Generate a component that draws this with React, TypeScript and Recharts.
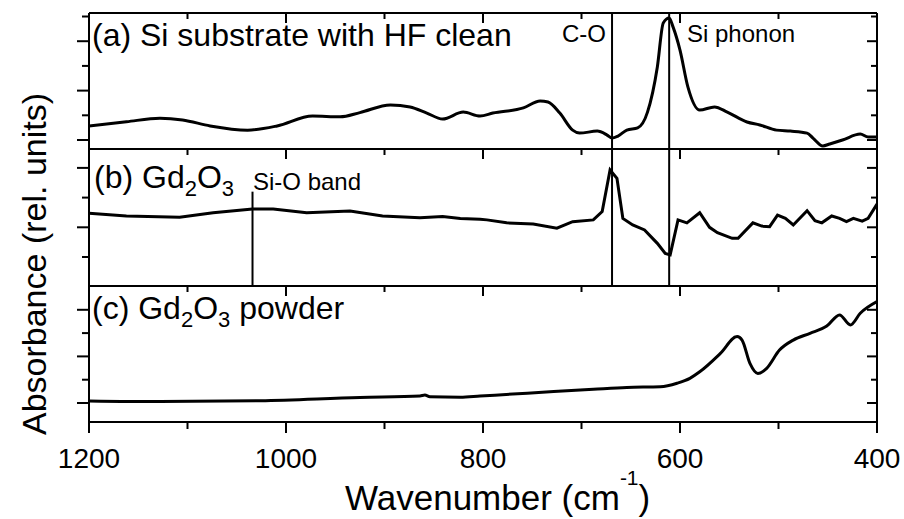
import React from "react";
import { LineChart, Line, XAxis, YAxis, ReferenceLine } from "recharts";

const FONT = '"Liberation Sans", Arial, Helvetica, sans-serif';

// (a) Si substrate with HF clean
const hfWave = [1200, 1162, 1128, 1105, 1077, 1039, 1009, 973, 945, 925, 894, 874, 857, 841, 820, 803, 790, 759, 742, 734, 722, 709, 702, 684, 674, 669, 663, 654, 643, 633, 623, 617, 611, 607, 600, 592, 580, 565, 552, 532, 519, 502, 488, 471, 465, 455, 448, 435, 417, 409, 400];
const hfAbs = [0.57, 0.74, 0.88, 0.81, 0.57, 0.4, 0.57, 0.97, 0.94, 1.11, 1.42, 1.34, 1.09, 0.85, 1.13, 0.97, 1.09, 1.3, 1.58, 1.54, 1.09, 0.4, 0.28, 0.36, 0.2, 0.08, 0.16, 0.4, 0.49, 1.13, 2.96, 4.74, 4.94, 4.57, 3.64, 2.15, 1.21, 1.34, 1.13, 0.73, 0.61, 0.4, 0.36, 0.28, 0.08, -0.24, -0.16, 0, 0.24, 0.12, 0.12];

// (b) Gd2O3 film
const filmWave = [1200, 1162, 1108, 1074, 1034, 1013, 979, 935, 902, 864, 841, 823, 803, 796, 776, 749, 725, 709, 688, 679, 671, 664, 658, 648, 636, 623, 615, 610, 602, 593, 580, 570, 562, 547, 541, 526, 517, 509, 501, 493, 485, 471, 463, 456, 446, 438, 431, 424, 415, 409, 400];
const filmAbs = [1.47, 1.38, 1.34, 1.49, 1.62, 1.62, 1.49, 1.55, 1.38, 1.32, 1.36, 1.3, 1.27, 1.25, 1.15, 1.11, 0.97, 1.19, 1.25, 1.53, 2.93, 2.65, 1.3, 1.08, 0.91, 0.46, 0.12, 0.07, 1.25, 1.15, 1.49, 1.0, 0.82, 0.63, 0.63, 1.15, 1.04, 1.02, 1.41, 1.3, 1.08, 1.56, 1.22, 1.15, 1.38, 1.3, 1.19, 1.3, 1.21, 1.3, 1.78];

// (c) Gd2O3 powder
const powderWave = [1200, 1128, 1026, 925, 864, 859, 854, 823, 803, 755, 688, 654, 620, 603, 590, 580, 559, 542, 537, 529, 521, 512, 499, 485, 468, 451, 438, 427, 417, 400];
const powderAbs = [0.09, 0.06, 0.1, 0.24, 0.3, 0.34, 0.27, 0.25, 0.3, 0.42, 0.59, 0.67, 0.7, 0.85, 1.06, 1.34, 2.13, 2.85, 2.7, 1.7, 1.27, 1.49, 2.27, 2.7, 2.99, 3.3, 3.78, 3.35, 3.85, 4.35];

const X_MAJOR = [1200, 1000, 800, 600, 400];
const X_MINOR = [1100, 900, 700, 500];

// band markers (cm-1)
const CO_BAND = 669;
const SI_PHONON = 611;
const SIO_BAND = 1034;
const SIO_MARK_TOP = 2.2;

const toRows = (w: number[], v: number[]) => w.map((x, i) => ({ w: x, v: v[i] }));

const W = 904;
const noLabel = () => <g />;

type PanelProps = {
  data: { w: number; v: number }[];
  top: number;
  height: number;
  marginTop: number;
  marginBottom: number;
  domain: [number, number];
  yMajor: number[];
  yMinor: number[];
  curve: "linear" | "monotone";
  bottom?: boolean;
  children?: React.ReactNode;
};

// axes are 1px wide/high: recharts skips drawing an axis of size 0
const Panel = ({ data, top, height, marginTop, marginBottom, domain, yMajor, yMinor, curve, bottom, children }: PanelProps) => (
  <div style={{ position: "absolute", left: 0, top }}>
    <LineChart width={W} height={height} data={data} margin={{ top: marginTop, right: 27, bottom: marginBottom, left: 87 }}>
      <XAxis xAxisId="x" dataKey="w" type="number" domain={[400, 1200]} reversed allowDataOverflow orientation="top" mirror height={1} ticks={X_MAJOR} interval={0} tickSize={10} tick={noLabel} stroke="#000" strokeWidth={2} />
      <XAxis xAxisId="xm" dataKey="w" type="number" domain={[400, 1200]} reversed allowDataOverflow orientation="top" mirror height={1} ticks={X_MINOR} interval={0} tickSize={5} tick={noLabel} axisLine={false} stroke="#000" strokeWidth={2} />
      {bottom && (
        <XAxis xAxisId="xb" dataKey="w" type="number" domain={[400, 1200]} reversed allowDataOverflow orientation="bottom" height={1} ticks={X_MAJOR} interval={0} tickSize={11} tickMargin={15} tick={{ fontSize: 28, fill: "#000", fontFamily: FONT, stroke: "none" }} stroke="#000" strokeWidth={2} />
      )}
      {bottom && (
        <XAxis xAxisId="xbm" dataKey="w" type="number" domain={[400, 1200]} reversed allowDataOverflow orientation="bottom" height={1} ticks={X_MINOR} interval={0} tickSize={6} tick={noLabel} axisLine={false} stroke="#000" strokeWidth={2} />
      )}
      <YAxis yAxisId="y" type="number" domain={domain} allowDataOverflow width={1} ticks={yMajor} interval={0} tickSize={12} tick={noLabel} stroke="#000" strokeWidth={2} />
      <YAxis yAxisId="ym" type="number" domain={domain} allowDataOverflow width={1} ticks={yMinor} interval={0} tickSize={6} tick={noLabel} axisLine={false} stroke="#000" strokeWidth={2} />
      <YAxis yAxisId="yr" type="number" domain={domain} allowDataOverflow orientation="right" mirror width={1} ticks={yMajor} interval={0} tickSize={10} tick={noLabel} stroke="#000" strokeWidth={2} />
      <YAxis yAxisId="yrm" type="number" domain={domain} allowDataOverflow orientation="right" mirror width={1} ticks={yMinor} interval={0} tickSize={5} tick={noLabel} axisLine={false} stroke="#000" strokeWidth={2} />
      {children}
      <Line xAxisId="x" yAxisId="y" dataKey="v" type={curve} stroke="#000" strokeWidth={3} dot={false} isAnimationActive={false} />
    </LineChart>
  </div>
);

const bandLine = (x: number) => (
  <ReferenceLine xAxisId="x" yAxisId="y" x={x} stroke="#000" strokeWidth={2} ifOverflow="hidden" />
);

const small = { fontSize: 24, fill: "#000", fontFamily: FONT };
const big = { fontSize: 32, fill: "#000", fontFamily: FONT };

export default function App() {
  return (
    <div style={{ position: "absolute", left: 0, top: 0, width: W, height: 519, background: "#fff" }}>
      <Panel data={toRows(hfWave, hfAbs)} top={0} height={151} marginTop={13} marginBottom={2} domain={[-0.364, 5.142]} yMajor={[0, 2, 4]} yMinor={[1, 3, 5]} curve="monotone">
        {bandLine(CO_BAND)}
        {bandLine(SI_PHONON)}
      </Panel>
      <Panel data={toRows(filmWave, filmAbs)} top={147} height={140} marginTop={2} marginBottom={1} domain={[-0.976, 3.636]} yMajor={[1, 3]} yMinor={[0, 2]} curve="linear">
        {bandLine(CO_BAND)}
        {bandLine(SI_PHONON)}
        <ReferenceLine xAxisId="x" yAxisId="y" segment={[{ x: SIO_BAND, y: SIO_MARK_TOP }, { x: SIO_BAND, y: -0.976 }]} stroke="#000" strokeWidth={2} />
      </Panel>
      <Panel data={toRows(powderWave, powderAbs)} top={284} height={235} marginTop={2} marginBottom={95} domain={[-0.815, 5.021]} yMajor={[0, 2, 4]} yMinor={[1, 3]} curve="monotone" bottom />

      <svg width={W} height={519} style={{ position: "absolute", left: 0, top: 0, pointerEvents: "none" }}>
        <text x={92} y={46} {...big}>(a) Si substrate with HF clean</text>
        <text x={606} y={42} textAnchor="end" {...small}>C-O</text>
        <text x={687} y={42} {...small}>Si phonon</text>
        <text x={94} y={188} {...big}>
          (b) Gd<tspan fontSize={22} dy={8}>2</tspan>
          <tspan dy={-8}>O</tspan>
          <tspan fontSize={22} dy={8}>3</tspan>
        </text>
        <text x={253} y={190} {...small}>Si-O band</text>
        <text x={92} y={319} {...big}>
          (c) Gd<tspan fontSize={22} dy={8}>2</tspan>
          <tspan dy={-8}>O</tspan>
          <tspan fontSize={22} dy={8}>3</tspan>
          <tspan dy={-8}> powder</tspan>
        </text>
        <text x={46} y={264} transform="rotate(-90 46 264)" textAnchor="middle" fontSize={34} fill="#000" fontFamily={FONT}>
          Absorbance (rel. units)
        </text>
        <text x={345} y={510} fontSize={35} fill="#000" fontFamily={FONT}>
          Wavenumber (cm<tspan fontSize={21} dy={-25}>-1</tspan>
          <tspan dy={25}>)</tspan>
        </text>
      </svg>
    </div>
  );
}
